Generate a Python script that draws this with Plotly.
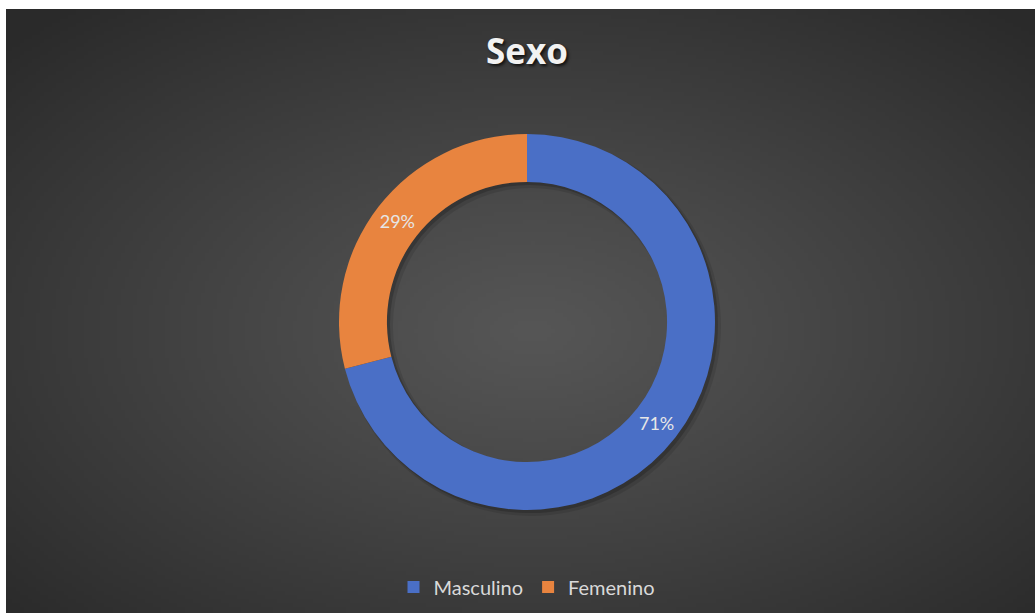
import base64, struct, zlib
import plotly.graph_objects as go

# ---- data ----
categories = ["Masculino", "Femenino"]
values = [71, 29]
colors = ["#4a6fc6", "#e8843f"]
title_text = "Sexo"

W, H = 1035, 613

# ---- radial gradient background as a small PNG ----
def make_png(w, h, center, edge):
    rows = []
    cx, cy = w * 0.51, h * 0.53
    for j in range(h):
        row = bytearray([0])
        for i in range(w):
            dx = (i - cx) / (w / 2)
            dy = (j - cy) / (h / 2)
            d = min(1.0, ((dx * dx + dy * dy) ** 0.5) / 1.414)
            t = d ** 1.1
            c = int(center + (edge - center) * t)
            row += bytes([c, c, c])
        rows.append(bytes(row))
    raw = b"".join(rows)
    def chunk(tag, data):
        return struct.pack(">I", len(data)) + tag + data + struct.pack(">I", zlib.crc32(tag + data) & 0xffffffff)
    png = b"\x89PNG\r\n\x1a\n"
    png += chunk(b"IHDR", struct.pack(">IIBBBBB", w, h, 8, 2, 0, 0, 0))
    png += chunk(b"IDAT", zlib.compress(raw, 9))
    png += chunk(b"IEND", b"")
    return "data:image/png;base64," + base64.b64encode(png).decode()

bg = make_png(256, 150, 0x56, 0x2a)

left_px, top_px = 6, 9
cx_px, cy_px, r_px = 527, 322, 188

def dom(cx, cy, r):
    return dict(x=[(cx - r) / W, (cx + r) / W], y=[(H - cy - r) / H, (H - cy + r) / H])

def shadow(off, alpha, grow):
    return go.Pie(
        values=[1],
        labels=["shadow"],
        hole=(r_px * 0.745 - grow) / (r_px + grow),
        marker=dict(colors=["rgba(0,0,0,%s)" % alpha], line=dict(width=0)),
        textinfo="none",
        hoverinfo="skip",
        showlegend=False,
        sort=False,
        domain=dom(cx_px + off, cy_px + off, r_px + grow),
    )

main = go.Pie(
    labels=categories,
    values=values,
    hole=0.745,
    sort=False,
    direction="clockwise",
    rotation=0,
    marker=dict(colors=colors, line=dict(width=0)),
    textinfo="percent",
    texttemplate="%{percent:.0%}",
    textposition="inside",
    insidetextorientation="horizontal",
    textfont=dict(family="Lato, Open Sans, sans-serif", size=18, color="#e6e6e6"),
    domain=dom(cx_px, cy_px, r_px),
    hoverinfo="label+percent",
)

fig = go.Figure([shadow(4, 0.10, 2), shadow(2.5, 0.18, 0.5), main])

fig.update_layout(
    width=W,
    height=H,
    margin=dict(l=0, r=0, t=0, b=0),
    paper_bgcolor="white",
    plot_bgcolor="rgba(0,0,0,0)",
    images=[dict(
        source=bg, xref="paper", yref="paper",
        x=left_px / W, y=1 - top_px / H,
        sizex=1 - left_px / W, sizey=1 - top_px / H,
        xanchor="left", yanchor="top", sizing="stretch", layer="below",
    )],
    title=dict(
        text="<b>" + title_text + "</b>",
        x=cx_px / W, xanchor="center",
        y=1 - 52 / H, yanchor="middle",
        font=dict(family="Open Sans, sans-serif", size=35, color="#f2f2f2",
                  shadow="2px 2px 3px rgba(0,0,0,0.7)"),
    ),
    legend=dict(
        orientation="h",
        x=cx_px / W, xanchor="center",
        y=1 - 587 / H, yanchor="middle",
        font=dict(family="Lato, Open Sans, sans-serif", size=20, color="#d9d9d9"),
        bgcolor="rgba(0,0,0,0)",
        itemwidth=30,
    ),
    showlegend=True,
)

fig.write_html(
    "out.html",
    config={"displayModeBar": False},
    post_script="document.body.style.margin='0px';document.body.style.overflow='hidden';",
)
